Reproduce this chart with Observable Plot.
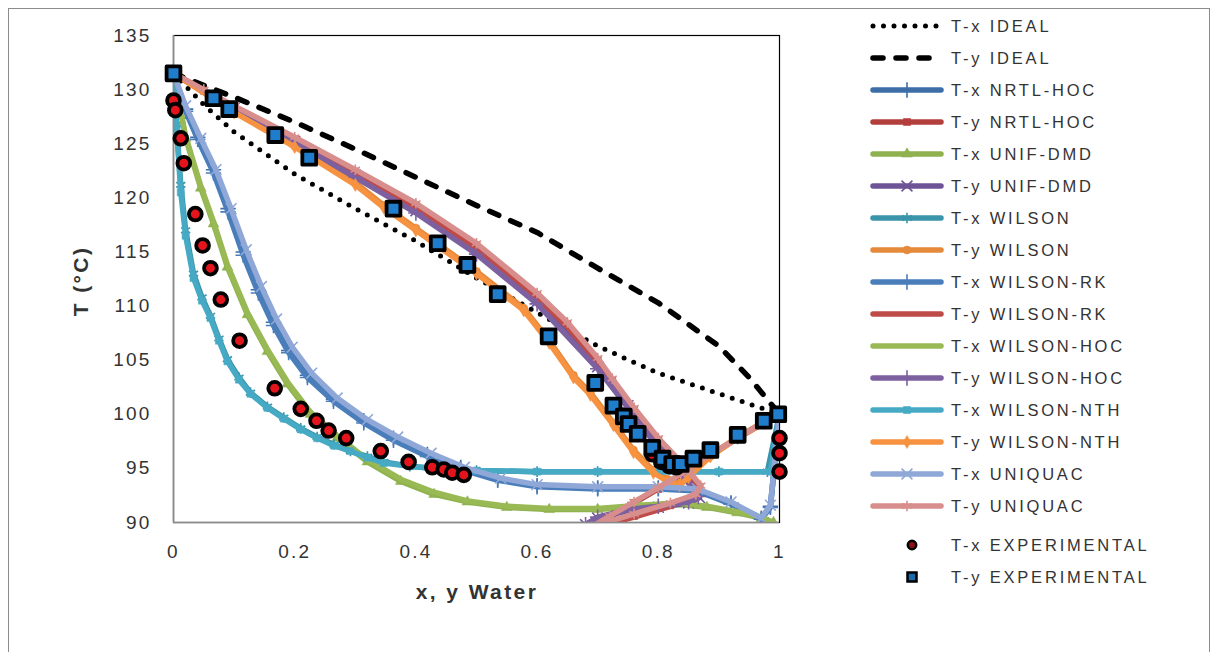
<!DOCTYPE html>
<html><head><meta charset="utf-8">
<script src="https://cdn.jsdelivr.net/npm/d3@7"></script>
<script src="https://cdn.jsdelivr.net/npm/@observablehq/plot@0.6"></script>
<style>
body{margin:0;background:#fff;font-family:"Liberation Sans",Arial,sans-serif;}
#wrap{position:relative;width:1211px;height:652px;overflow:hidden;background:#fff;}
#border{position:absolute;left:8px;top:8px;width:1200px;height:700px;border:1px solid #8c8c8c;}
#chart{position:absolute;left:0;top:0;}
#legend{position:absolute;left:0;top:0;}
.lrow{position:absolute;left:870px;height:20px;display:flex;align-items:center;}
.lrow span{font-size:16.5px;letter-spacing:2.8px;color:#333;margin-left:7px;white-space:nowrap;}
.atitle{position:absolute;font-weight:bold;font-size:21px;color:#333;white-space:nowrap;letter-spacing:2.4px;}
</style></head><body>
<div id="wrap"><div id="border"></div><div id="chart"></div><div id="legend"></div>
<div class="atitle" id="xt" style="left:477px;top:592px;transform:translate(-50%,-50%);">x, y Water</div>
<div class="atitle" id="yt" style="left:81px;top:281px;transform:translate(-50%,-50%) rotate(-90deg);">T (°C)</div>
</div>
<script>
// ---- data: [x or y water, T °C] ----
const txIdeal = [[0,131.5],[0.05,128.6],[0.1,126.1],[0.2,122.2],[0.3,119.0],[0.4,116.0],[0.5,112.6],[0.6,109.4],[0.7,106.3],[0.8,103.8],[0.9,101.9],[1,100.0]];
const tyIdeal = [[0,131.5],[0.1,129.3],[0.2,127.0],[0.3,124.5],[0.4,121.9],[0.5,119.3],[0.6,116.8],[0.7,113.5],[0.8,110.3],[0.9,106.3],[0.95,103.4],[1,100.0]];

const nrtlTx = [[0,131.5],[0.02,128.2],[0.04,125.6],[0.066,122.6],[0.09,119.0],[0.115,115.0],[0.14,111.5],[0.165,108.5],[0.19,105.9],[0.221,103.6],[0.264,101.4],[0.314,99.4],[0.363,97.8],[0.419,96.3],[0.474,95.1],[0.535,94.0],[0.6,93.4],[0.7,93.2],[0.8,93.2],[0.865,93.0],[0.92,91.8],[0.97,90.4],[0.985,91.5],[1,100]];
const nrtlTy = [[0,131.5],[0.05,129.9],[0.1,128.4],[0.2,125.4],[0.3,122.4],[0.4,119.3],[0.5,115.6],[0.6,111.0],[0.65,108.3],[0.7,105.0],[0.724,103.1],[0.76,100.4],[0.8,97.6],[0.837,95.4],[0.853,94.4],[0.868,93.3],[0.86,92.5],[0.82,91.6],[0.76,90.6],[0.7,89.6],[0.72,90.5],[0.76,91.8],[0.8,93.1],[0.837,94.4],[0.886,96.2],[0.931,97.8],[0.974,99.2],[1,100]];
const unifTx = [[0,131.5],[0.02,125.5],[0.045,120.9],[0.066,117.6],[0.089,113.6],[0.122,109.2],[0.155,105.8],[0.188,102.8],[0.226,100.0],[0.27,97.8],[0.32,95.6],[0.375,93.8],[0.43,92.6],[0.485,91.9],[0.55,91.4],[0.62,91.2],[0.7,91.2],[0.77,91.5],[0.83,91.7],[0.88,91.4],[0.93,90.9],[0.97,90.4],[0.99,90.0]];
const unifTy = [[0,131.5],[0.1,128.3],[0.2,125.2],[0.3,122.1],[0.4,118.8],[0.5,115.0],[0.6,110.4],[0.7,104.4],[0.75,100.8],[0.8,97.0],[0.83,95.0],[0.855,93.4],[0.868,92.3],[0.85,91.8],[0.8,91.4],[0.75,91.1],[0.7,90.4],[0.68,89.8]];
const wilsonTx = [[0,131.5],[0.005,126.8],[0.012,121.2],[0.02,117.0],[0.033,113.0],[0.047,110.8],[0.061,109.1],[0.075,107.0],[0.089,105.1],[0.108,103.4],[0.127,102.0],[0.155,100.7],[0.182,99.7],[0.21,98.7],[0.237,97.9],[0.265,97.2],[0.292,96.6],[0.32,96.1],[0.347,95.6],[0.39,95.2],[0.43,95.0],[0.5,94.8],[0.6,94.7],[0.7,94.7],[0.8,94.7],[0.9,94.7],[0.98,94.7],[1,100]];
const wilsonTy = [[0,131.5],[0.1,128.0],[0.2,124.8],[0.3,121.4],[0.347,119.3],[0.4,117.2],[0.5,113.2],[0.578,109.8],[0.62,106.8],[0.66,103.6],[0.688,102.0],[0.726,99.2],[0.759,96.7],[0.792,94.8],[0.815,94.0],[0.835,93.6],[0.85,94.3],[0.886,96.2],[0.931,97.9],[0.974,99.3],[1,100]];
const rkTx = [[0,131.5],[0.02,128.0],[0.04,125.4],[0.066,122.3],[0.09,118.7],[0.115,114.7],[0.14,111.2],[0.165,108.2],[0.19,105.7],[0.221,103.4],[0.264,101.2],[0.314,99.2],[0.363,97.6],[0.419,96.1],[0.474,94.9],[0.535,93.9],[0.6,93.3],[0.7,93.1],[0.8,93.1],[0.865,92.9],[0.92,91.7],[0.97,90.3],[0.985,91.4],[1,100]];
const rkTy = [[0,131.5],[0.05,129.8],[0.1,128.3],[0.2,125.3],[0.3,122.3],[0.4,119.1],[0.5,115.4],[0.6,110.8],[0.65,108.1],[0.7,104.8],[0.724,102.9],[0.76,100.2],[0.8,97.4],[0.837,95.2],[0.853,94.2],[0.866,93.2],[0.858,92.4],[0.82,91.5],[0.76,90.5],[0.7,89.6]];
const hocTx = [[0,131.5],[0.02,125.7],[0.045,121.1],[0.066,117.8],[0.089,113.8],[0.122,109.4],[0.155,106.0],[0.188,103.0],[0.226,100.2],[0.27,98.0],[0.32,95.8],[0.375,94.0],[0.43,92.8],[0.485,92.0],[0.55,91.5],[0.62,91.3],[0.7,91.3],[0.77,91.6],[0.83,91.8],[0.88,91.5],[0.93,91.0],[0.97,90.5],[0.99,90.0]];
const hocTy = [[0,131.5],[0.1,128.2],[0.2,125.1],[0.3,121.9],[0.4,118.6],[0.5,114.8],[0.6,110.2],[0.7,104.2],[0.75,100.6],[0.8,96.9],[0.83,94.9],[0.855,93.3],[0.866,92.4],[0.85,91.9],[0.8,91.5],[0.75,91.2],[0.7,90.5],[0.68,89.8]];
const nthTx = [[0,131.5],[0.005,126.5],[0.012,120.5],[0.02,116.5],[0.033,112.6],[0.047,110.5],[0.061,108.9],[0.075,106.8],[0.089,104.9],[0.108,103.2],[0.127,101.9],[0.155,100.6],[0.182,99.6],[0.21,98.6],[0.237,97.8],[0.265,97.1],[0.292,96.6],[0.32,96.0],[0.347,95.5],[0.39,95.2],[0.43,95.0],[0.5,94.8],[0.6,94.7],[0.7,94.7],[0.8,94.7],[0.9,94.7],[0.985,94.7],[1,100]];
const nthTy = [[0,131.5],[0.1,127.9],[0.2,124.7],[0.3,121.2],[0.347,119.1],[0.4,117.0],[0.5,113.0],[0.578,109.6],[0.62,106.6],[0.66,103.4],[0.688,101.8],[0.726,99.0],[0.759,96.5],[0.792,94.6],[0.815,93.8],[0.835,93.4],[0.85,94.2],[0.886,96.1],[0.931,97.8],[0.974,99.2],[1,100]];
const uniqTx = [[0,131.5],[0.02,128.5],[0.045,125.5],[0.07,122.6],[0.095,119.0],[0.12,115.2],[0.145,111.8],[0.17,108.8],[0.196,106.2],[0.228,103.8],[0.27,101.5],[0.32,99.5],[0.37,97.9],[0.425,96.4],[0.48,95.1],[0.54,94.1],[0.6,93.5],[0.7,93.3],[0.8,93.3],[0.865,93.1],[0.92,91.9],[0.97,90.4],[0.985,91.6],[1,100]];
const uniqTy = [[0,131.5],[0.05,130.0],[0.1,128.5],[0.2,125.6],[0.3,122.6],[0.4,119.5],[0.5,115.8],[0.6,111.2],[0.65,108.5],[0.7,105.2],[0.724,103.3],[0.76,100.6],[0.8,97.8],[0.837,95.6],[0.853,94.6],[0.87,93.4],[0.862,92.6],[0.82,91.8],[0.76,90.8],[0.69,89.6],[0.72,90.6],[0.76,91.9],[0.8,93.2],[0.837,94.5],[0.886,96.3],[0.931,97.8],[0.974,99.3],[1,100]];

const txExp = [[0,129.0],[0.003,128.1],[0.012,125.5],[0.017,123.2],[0.036,118.5],[0.048,115.6],[0.061,113.5],[0.078,110.6],[0.109,106.8],[0.167,102.4],[0.21,100.5],[0.236,99.4],[0.256,98.5],[0.285,97.8],[0.342,96.6],[0.388,95.6],[0.427,95.1],[0.446,94.9],[0.46,94.6],[0.479,94.4],[0.79,96.3],[0.805,95.6],[0.818,95.2],[0.83,95.1],[1,97.8],[1,96.4],[1,94.7]];
const tyExp = [[0,131.5],[0.066,129.2],[0.092,128.2],[0.168,125.8],[0.224,123.7],[0.363,119.0],[0.436,115.8],[0.485,113.8],[0.535,111.1],[0.619,107.2],[0.696,102.9],[0.726,100.8],[0.743,99.8],[0.751,99.1],[0.766,98.2],[0.79,96.9],[0.807,95.9],[0.823,95.4],[0.837,95.4],[0.858,95.9],[0.886,96.7],[0.931,98.1],[0.974,99.4],[0.998,100.0]];

const xTicks = [0, 0.2, 0.4, 0.6, 0.8, 1];
const yTicks = [90, 95, 100, 105, 110, 115, 120, 125, 130, 135];
const legendLabels = ["T-x IDEAL","T-y IDEAL","T-x NRTL-HOC","T-y NRTL-HOC","T-x UNIF-DMD","T-y UNIF-DMD","T-x WILSON","T-y WILSON","T-x WILSON-RK","T-y WILSON-RK","T-x WILSON-HOC","T-y WILSON-HOC","T-x WILSON-NTH","T-y WILSON-NTH","T-x UNIQUAC","T-y UNIQUAC","T-x EXPERIMENTAL","T-y EXPERIMENTAL"];

// ---- styles ----
const LW = 5.5;
const series = [
  {data: txIdeal, color:"#000", w:5, dash:"0 10.5", cap:"round"},
  {data: tyIdeal, color:"#000", w:5.5, dash:"10 13", cap:"round"},
  {data: nrtlTx, color:"#3d6ea8", w:LW, sym:"plus"},
  {data: nrtlTy, color:"#b23f3c", w:LW, sym:"square"},
  {data: unifTx, color:"#8fb24e", w:LW, sym:"triangle"},
  {data: unifTy, color:"#6e5497", w:LW, sym:"times"},
  {data: wilsonTx, color:"#3a94aa", w:LW, sym:"asterisk"},
  {data: wilsonTy, color:"#e5893b", w:LW, sym:"circle"},
  {data: rkTx, color:"#4a7ebb", w:LW, sym:"plus"},
  {data: rkTy, color:"#be4b48", w:LW},
  {data: hocTx, color:"#98b954", w:LW},
  {data: hocTy, color:"#7d60a0", w:LW, sym:"plus"},
  {data: nthTx, color:"#46aac5", w:LW, sym:"square"},
  {data: nthTy, color:"#f69240", w:LW, sym:"diamond"},
  {data: uniqTx, color:"#8fa8d8", w:LW, sym:"times"},
  {data: uniqTy, color:"#d88e8c", w:LW, sym:"asterisk"}
];
const filled = new Set(["square","triangle","circle","diamond"]);
const X = d => d[0], Y = d => d[1];

const marks = [Plot.frame({stroke:"#000", strokeWidth:1.2})];
for (const s of series) {
  marks.push(Plot.line(s.data, {x:X, y:Y, stroke:s.color, strokeWidth:s.w, strokeDasharray:s.dash, strokeLinecap:s.cap || "round", strokeLinejoin:"round", clip:true}));
  if (s.sym) {
    const f = filled.has(s.sym);
    marks.push(Plot.dot(s.data, {x:X, y:Y, symbol:s.sym, r: f ? 4 : 5, fill: f ? s.color : "none", stroke: s.color, strokeWidth: f ? 0.5 : 1.6, clip:true}));
  }
}
marks.push(Plot.ruleX([0], {stroke:"#8a8a8a", strokeWidth:1.6}));
marks.push(Plot.ruleY([90], {stroke:"#8a8a8a", strokeWidth:1.6}));
marks.push(Plot.dot(txExp, {x:X, y:Y, r:6.4, fill:"#e3141c", stroke:"#000", strokeWidth:3.8}));
marks.push(Plot.dot(tyExp, {x:X, y:Y, symbol:"square", r:7.8, fill:"#1f7dcc", stroke:"#000", strokeWidth:3.8, strokeLinejoin:"round"}));
marks.push(Plot.axisX({ticks:xTicks, tickSize:0, tickPadding:22, tickFormat:d=>String(d), label:null, fontSize:19}));
marks.push(Plot.axisY({ticks:yTicks, tickSize:0, tickPadding:22, tickFormat:d=>String(d), label:null, fontSize:19}));

const chart = Plot.plot({
  width:1211, height:652,
  marginLeft:173, marginRight:432, marginTop:35, marginBottom:130,
  x:{domain:[0,1]}, y:{domain:[90,135]},
  style:{fontFamily:"'Liberation Sans', Arial, sans-serif", color:"#333", background:"transparent", letterSpacing:"2.2px"},
  marks
});
document.getElementById("chart").appendChild(chart);

// ---- legend ----
const legendY = i => i < 16 ? 26 + 32 * i : 545 + 32 * (i - 16);
const leg = d3.select("#legend");
legendLabels.forEach((lab, i) => {
  const row = leg.append("div").attr("class","lrow").style("top", (legendY(i) - 10) + "px");
  const svg = row.append("svg").attr("width", 74).attr("height", 20);
  if (i < 16) {
    const s = series[i];
    svg.append("line").attr("x1", 3).attr("x2", 71).attr("y1", 10).attr("y2", 10)
      .attr("stroke", s.color).attr("stroke-width", s.w).attr("stroke-linecap", s.cap || "round")
      .attr("stroke-dasharray", s.dash || null);
    if (s.sym) {
      const f = filled.has(s.sym);
      const typ = {plus:d3.symbolPlus, square:d3.symbolSquare, triangle:d3.symbolTriangle, times:d3.symbolTimes, asterisk:d3.symbolAsterisk, circle:d3.symbolCircle, diamond:d3.symbolDiamond}[s.sym];
      const r = f ? 4 : 5;
      svg.append("path").attr("transform","translate(37,10)").attr("d", d3.symbol(typ, Math.PI * r * r)())
        .attr("fill", f ? s.color : "none").attr("stroke", s.color).attr("stroke-width", f ? 0.5 : 1.6);
    }
  } else if (i === 16) {
    svg.append("circle").attr("cx", 42).attr("cy", 10).attr("r", 4.2).attr("fill", "#8a1014").attr("stroke", "#000").attr("stroke-width", 2.5);
  } else {
    svg.append("rect").attr("x", 37.5).attr("y", 5.5).attr("width", 9).attr("height", 9).attr("fill", "#1a6aa8").attr("stroke", "#000").attr("stroke-width", 2.5);
  }
  row.append("span").text(lab);
});
</script>
</body></html>
